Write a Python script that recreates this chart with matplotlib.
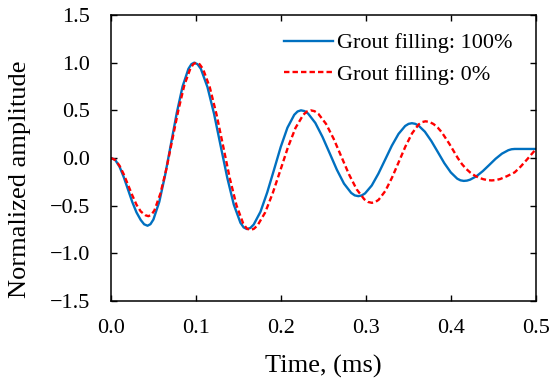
import matplotlib
matplotlib.use("Agg")
import matplotlib.pyplot as plt

# values (time in ms, normalized amplitude)
t_full = [0.000, 0.005, 0.010, 0.015, 0.020, 0.025, 0.030, 0.035, 0.039,
          0.043, 0.0464, 0.0499, 0.0568, 0.0636, 0.0705, 0.0774, 0.0842, 0.0911, 0.0946,
          0.098, 0.1019, 0.1058, 0.1135, 0.1213, 0.129, 0.1368, 0.1445, 0.1523, 0.1561,
          0.160, 0.164, 0.1679, 0.1759, 0.1838, 0.1918, 0.1997, 0.2076, 0.2156, 0.2195,
          0.2235, 0.2277, 0.2319, 0.2404, 0.2488, 0.2573, 0.2657, 0.2741, 0.2826, 0.2868,
          0.291, 0.2949, 0.2989, 0.3068, 0.3146, 0.3225, 0.3304, 0.3383, 0.3461, 0.3501,
          0.354, 0.3578, 0.3616, 0.3693, 0.3769, 0.3845, 0.3921, 0.3998, 0.4074, 0.4112,
          0.415, 0.4188, 0.4225, 0.430, 0.4375, 0.445, 0.4525, 0.460, 0.4675, 0.4713,
          0.475, 0.485, 0.500]
a_full = [0.000, -0.020, -0.090, -0.200, -0.330, -0.460, -0.570, -0.650, -0.695,
          -0.710, -0.694, -0.645, -0.460, -0.183, 0.145, 0.473, 0.750, 0.935, 0.984,
          1.000, 0.983, 0.934, 0.744, 0.462, 0.128, -0.207, -0.489, -0.679, -0.728,
          -0.745, -0.733, -0.698, -0.563, -0.361, -0.123, 0.116, 0.318, 0.453, 0.488,
          0.500, 0.492, 0.466, 0.368, 0.222, 0.050, -0.122, -0.268, -0.366, -0.392,
          -0.400, -0.393, -0.371, -0.288, -0.164, -0.018, 0.129, 0.253, 0.336, 0.358,
          0.365, 0.359, 0.342, 0.276, 0.178, 0.063, -0.053, -0.151, -0.217, -0.234,
          -0.240, -0.237, -0.227, -0.191, -0.137, -0.073, -0.008, 0.046, 0.082, 0.092,
          0.095, 0.095, 0.095]

t_empty = [0.000, 0.005, 0.010, 0.015, 0.020, 0.025, 0.030, 0.035, 0.0405,
           0.044, 0.0475, 0.0511, 0.0581, 0.0652, 0.0722, 0.0793, 0.0863, 0.0934, 0.0969,
           0.1004, 0.1043, 0.1083, 0.1162, 0.1241, 0.132, 0.1398, 0.1477, 0.1556, 0.1596,
           0.1635, 0.168, 0.1724, 0.1814, 0.1903, 0.1993, 0.2082, 0.2171, 0.2261, 0.2305,
           0.235, 0.2395, 0.244, 0.253, 0.262, 0.271, 0.280, 0.289, 0.298, 0.3025,
           0.307, 0.3109, 0.3149, 0.3228, 0.3306, 0.3385, 0.3464, 0.3543, 0.3621, 0.3661,
           0.370, 0.3748, 0.3795, 0.3843, 0.389, 0.398, 0.403, 0.408, 0.413, 0.418,
           0.423, 0.428, 0.433, 0.438, 0.443, 0.448, 0.453, 0.458, 0.466, 0.475,
           0.482, 0.490, 0.500]
a_empty = [0.000, -0.020, -0.080, -0.170, -0.280, -0.390, -0.490, -0.560, -0.600,
           -0.610, -0.595, -0.549, -0.374, -0.113, 0.195, 0.503, 0.764, 0.939, 0.985,
           1.000, 0.983, 0.933, 0.743, 0.459, 0.123, -0.214, -0.498, -0.688, -0.738,
           -0.755, -0.743, -0.707, -0.571, -0.368, -0.128, 0.113, 0.316, 0.452, 0.488,
           0.500, 0.491, 0.463, 0.358, 0.201, 0.015, -0.171, -0.328, -0.433, -0.461,
           -0.470, -0.462, -0.438, -0.345, -0.206, -0.043, 0.121, 0.260, 0.353, 0.377,
           0.385, 0.378, 0.356, 0.320, 0.272, 0.150, 0.075, 0.000, -0.065, -0.115,
           -0.155, -0.185, -0.207, -0.222, -0.232, -0.235, -0.231, -0.220, -0.190, -0.150,
           -0.090, -0.010, 0.094]

labels = ["Grout filling: 100%", "Grout filling: 0%"]
x_ticks = [0.0, 0.1, 0.2, 0.3, 0.4, 0.5]
y_ticks = [-1.5, -1.0, -0.5, 0.0, 0.5, 1.0, 1.5]

plt.rcParams['font.family'] = ['Liberation Serif', 'DejaVu Serif']

fig = plt.figure(figsize=(5.5, 3.84), dpi=100)
ax = fig.add_axes([0.2018, 0.216, 0.7727, 0.745])

ax.plot(t_full, a_full, color='#0070C0', linewidth=1.7, label=labels[0])
ax.plot(t_empty, a_empty, color='#FF0000', linewidth=1.7, dashes=(2.3, 1.3), label=labels[1])

ax.set_xlim(0, 0.5)
ax.set_ylim(-1.5, 1.5)
ax.set_xticks(x_ticks)
ax.set_yticks(y_ticks)
ax.set_xticklabels(["%.1f" % v for v in x_ticks])
ax.set_yticklabels([("%.1f" % v).replace("-", "\u2212") for v in y_ticks])
ax.tick_params(direction='in', top=True, right=True, length=4, width=1.0,
               labelsize=16, colors='black')
ax.tick_params(axis='x', pad=13)
ax.tick_params(axis='y', pad=15)
for s in ax.spines.values():
    s.set_linewidth(1.1)

ax.set_xlabel("Time, (ms)", fontsize=19, labelpad=12)
ax.set_ylabel("Normalized amplitude", fontsize=19)
ax.yaxis.set_label_coords(-0.188, 0.427)

ax.legend(loc='upper right', bbox_to_anchor=(0.987, 1.0), frameon=False, fontsize=16,
          handlelength=2.2, handletextpad=0.2, labelspacing=0.5, borderaxespad=0.4)

fig.savefig("out.png", dpi=100)
